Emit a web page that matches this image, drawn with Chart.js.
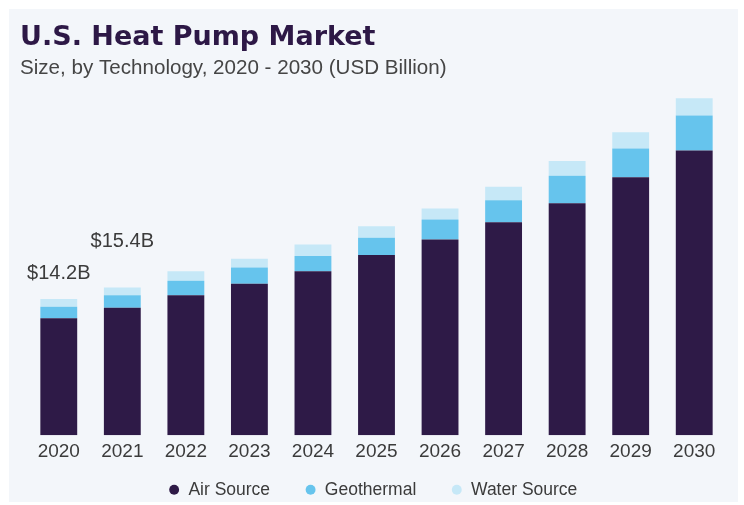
<!DOCTYPE html>
<html>
<head>
<meta charset="utf-8">
<script src="https://cdn.jsdelivr.net/npm/chart.js@4/dist/chart.umd.min.js"></script>
<style>
  html, body { margin: 0; padding: 0; background: #ffffff; }
  #panel { position: absolute; left: 9px; top: 9px; width: 729px; height: 493px; background: #f3f6fa; }
  #wrap { position: absolute; left: 0; top: 0; width: 744px; height: 505px; }
</style>
</head>
<body>
<div id="panel"></div>
<div id="wrap"><canvas id="chart" width="744" height="505"></canvas></div>
<script>
const years = ['2020', '2021', '2022', '2023', '2024', '2025', '2026', '2027', '2028', '2029', '2030'];
const airSource = [12.2, 13.3, 14.6, 15.8, 17.1, 18.8, 20.4, 22.2, 24.2, 26.9, 29.7];
const geothermal = [1.2, 1.3, 1.5, 1.7, 1.6, 1.8, 2.1, 2.3, 2.85, 3.0, 3.65];
const waterSource = [0.8, 0.8, 1.0, 0.9, 1.2, 1.2, 1.15, 1.4, 1.55, 1.7, 1.8];
const labelledYears = ['2020', '2021'];

const textColor = '#3b3b3b';
const baseFont = '"Liberation Sans", Arial, sans-serif';

// value tags above the first bars, from the stacked totals
const totalTags = {
  id: 'totalTags',
  afterDatasetsDraw(chart, args, opts) {
    const {ctx, scales: {x, y}} = chart;
    ctx.save();
    ctx.font = '20px ' + baseFont;
    ctx.fillStyle = textColor;
    ctx.textAlign = 'center';
    ctx.textBaseline = 'alphabetic';
    labelledYears.forEach((yr, n) => {
      const i = years.indexOf(yr);
      const total = airSource[i] + geothermal[i] + waterSource[i];
      const px = x.getPixelForValue(i);
      const py = y.getPixelForValue(total) - opts.lift[n];
      ctx.fillText('$' + total.toFixed(1) + 'B', px, py);
    });
    ctx.restore();
  }
};

// legend keeps wide item spacing but starts closer to the axis labels
// (only the top moves, so the clip box just grows upward)
const legendLift = {
  id: 'legendLift',
  afterLayout(chart, args, opts) {
    chart.legend.top -= opts.by;
  }
};

const ctx = document.getElementById('chart').getContext('2d');
const chart = new Chart(ctx, {
  type: 'bar',
  data: {
    labels: years,
    datasets: [
      {label: 'Air Source', data: airSource, backgroundColor: '#2e1a47'},
      {label: 'Geothermal', data: geothermal, backgroundColor: '#66c4ed'},
      {label: 'Water Source', data: waterSource, backgroundColor: '#c6e8f7'}
    ]
  },
  options: {
    responsive: false,
    animation: false,
    layout: {padding: {left: 20, right: 18, top: 10, bottom: 4}},
    datasets: {
      bar: {categoryPercentage: 1, barPercentage: 0.58, borderWidth: 0}
    },
    scales: {
      x: {
        stacked: true,
        grid: {display: false, drawTicks: false},
        border: {display: false},
        ticks: {color: textColor, font: {size: 19, family: baseFont}, padding: 5}
      },
      y: {
        stacked: true,
        min: 0,
        max: 36.2,
        grid: {display: false, drawTicks: false},
        border: {display: false},
        ticks: {display: false},
        afterFit(scale) { scale.width = 7; }
      }
    },
    plugins: {
      title: {
        display: true,
        text: 'U.S. Heat Pump Market',
        align: 'start',
        color: '#2d1846',
        font: {size: 27, weight: 'bold', family: '"DejaVu Sans", sans-serif'},
        padding: {top: 12, bottom: 2}
      },
      subtitle: {
        display: true,
        text: 'Size, by Technology, 2020 - 2030 (USD Billion)',
        align: 'start',
        color: '#454545',
        font: {size: 20.6, family: baseFont},
        padding: {top: 0, bottom: 7}
      },
      legend: {
        position: 'bottom',
        maxHeight: 33,
        labels: {
          usePointStyle: true,
          pointStyle: 'circle',
          boxWidth: 11,
          boxHeight: 7,
          padding: 35,
          color: textColor,
          font: {size: 17.5, family: baseFont}
        }
      },
      tooltip: {enabled: false},
      totalTags: {lift: [20, 41]},
      legendLift: {by: 22}
    }
  },
  plugins: [totalTags, legendLift]
});
</script>
</body>
</html>
